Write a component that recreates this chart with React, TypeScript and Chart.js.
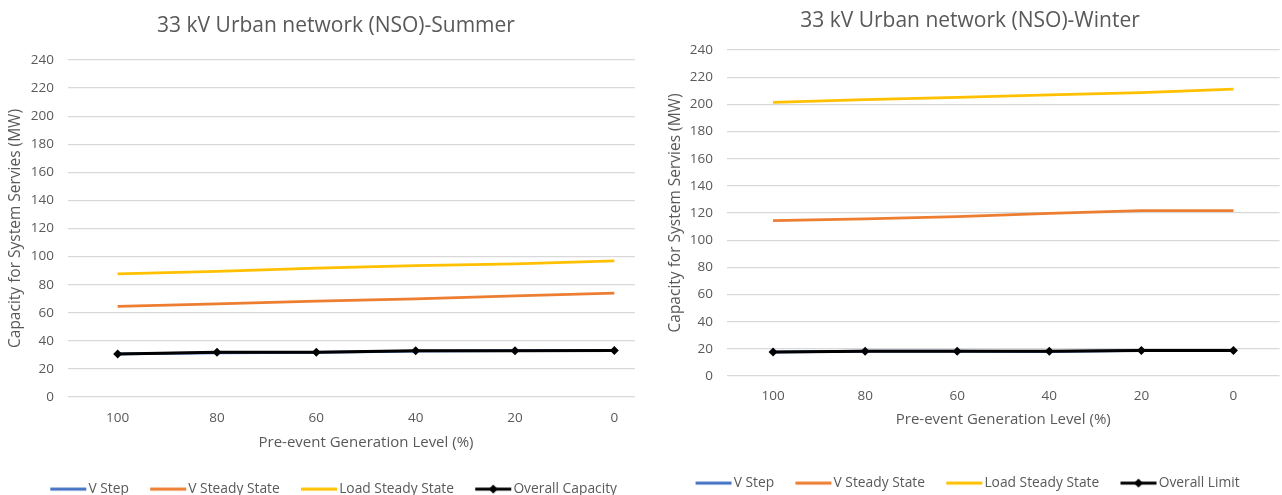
import { useEffect, useRef } from 'react';
import { Chart, registerables } from 'chart.js';

Chart.register(...registerables);

// ---------- data ----------
const generationLevels = [100, 80, 60, 40, 20, 0];
const yTickValues = [0, 20, 40, 60, 80, 100, 120, 140, 160, 180, 200, 220, 240];

const seriesNames = ['V Step', 'V Steady State', 'Load Steady State'];
const summerOverallName = 'Overall Capacity';
const winterOverallName = 'Overall Limit';

const summerTitle = '33 kV Urban network (NSO)-Summer';
const winterTitle = '33 kV Urban network (NSO)-Winter';
const xAxisTitle = 'Pre-event Generation Level (%)';
const yAxisTitle = 'Capacity for System Servies (MW)';

const summerVStep = [30.7, 31.4, 31.8, 32.6, 33.0, 33.2];
const summerVSteady = [64.6, 66.3, 68.2, 69.8, 72.0, 73.9];
const summerLoad = [87.6, 89.5, 91.7, 93.6, 94.8, 96.9];
const summerOverall = [30.7, 31.8, 31.8, 33.0, 33.0, 33.2];

const winterVStep = [17.6, 18.3, 18.3, 18.0, 18.8, 18.8];
const winterVSteady = [114.4, 115.6, 117.3, 119.8, 121.7, 121.7];
const winterLoad = [201.5, 203.5, 205.1, 206.9, 208.6, 211.2];
const winterOverall = [17.6, 18.3, 18.3, 18.3, 18.8, 18.8];

const colors = ['#4472C4', '#ED7D31', '#FFC000', '#000000'];

// ---------- styling ----------
const FONT = "'Open Sans', 'DejaVu Sans', sans-serif";
const TEXT = '#595959';
const GRID = '#D9D9D9';

function makeMarker(color: string, diamond: boolean): HTMLCanvasElement {
  const c = document.createElement('canvas');
  c.width = 38;
  c.height = 12;
  const ctx = c.getContext('2d')!;
  ctx.strokeStyle = color;
  ctx.lineWidth = 3;
  ctx.beginPath();
  ctx.moveTo(1, 6);
  ctx.lineTo(37, 6);
  ctx.stroke();
  if (diamond) {
    ctx.fillStyle = color;
    ctx.beginPath();
    ctx.moveTo(19, 1.5);
    ctx.lineTo(23.5, 6);
    ctx.lineTo(19, 10.5);
    ctx.lineTo(14.5, 6);
    ctx.closePath();
    ctx.fill();
  }
  return c;
}

const toPoints = (vals: number[]) => generationLevels.map((x, i) => ({ x, y: vals[i] }));

interface Layout {
  title: string;
  overallName: string;
  vStep: number[];
  vSteady: number[];
  load: number[];
  overall: number[];
  titlePad: { top: number; bottom: number };
  yWidth: number;
  yTitlePad: number;
  xHeight: number;
  xTickPad: number;
  xTitlePad: { top: number; bottom: number };
  padLeft: number;
  padRight: number;
}

function buildConfig(l: Layout): any {
  const markers = [
    makeMarker(colors[0], false),
    makeMarker(colors[1], false),
    makeMarker(colors[2], false),
    makeMarker(colors[3], true),
  ];
  const names = [...seriesNames, l.overallName];
  const values = [l.vStep, l.vSteady, l.load, l.overall];
  const datasets = values.map((v, i) => {
    const isOverall = i === 3;
    return {
      label: names[i],
      data: toPoints(v),
      borderColor: colors[i],
      backgroundColor: colors[i],
      borderWidth: isOverall ? 3 : 2.75,
      pointRadius: isOverall ? 4.5 : 0,
      pointHoverRadius: isOverall ? 4.5 : 0,
      pointStyle: 'rectRot',
      pointBackgroundColor: colors[i],
      pointBorderColor: colors[i],
      pointBorderWidth: 0,
      tension: 0,
      order: isOverall ? 0 : 1,
    };
  });

  return {
    type: 'line',
    data: { datasets },
    options: {
      animation: false,
      responsive: false,
      maintainAspectRatio: false,
      devicePixelRatio: 1,
      layout: { padding: { left: l.padLeft, right: l.padRight, top: 0, bottom: 0 } },
      plugins: {
        tooltip: { enabled: false },
        title: {
          display: true,
          text: l.title,
          color: TEXT,
          font: { family: FONT, size: 21, weight: 'normal' },
          padding: l.titlePad,
        },
        legend: {
          display: true,
          position: 'bottom',
          labels: {
            usePointStyle: true,
            pointStyleWidth: 26.5,
            padding: 26,
            color: TEXT,
            font: { family: FONT, size: 13.8 },
            sort: (a: any, b: any) => a.datasetIndex - b.datasetIndex,
            generateLabels: (chart: any) => {
              const items = (Chart.defaults.plugins.legend.labels as any).generateLabels(chart);
              return items.map((it: any) => ({ ...it, pointStyle: markers[it.datasetIndex], fontColor: TEXT }));
            },
          },
        },
      },
      scales: {
        x: {
          type: 'linear',
          reverse: true,
          min: -10,
          max: 110,
          afterBuildTicks: (scale: any) => {
            scale.ticks = generationLevels.map((v) => ({ value: v }));
          },
          afterFit: (scale: any) => {
            scale.height = l.xHeight;
          },
          grid: { display: false, drawTicks: false },
          border: { display: false },
          ticks: {
            color: TEXT,
            padding: l.xTickPad,
            font: { family: FONT, size: 13.5 },
            autoSkip: false,
            maxRotation: 0,
            callback: (v: any) => String(v),
          },
          title: {
            display: true,
            text: xAxisTitle,
            color: TEXT,
            font: { family: FONT, size: 15 },
            padding: l.xTitlePad,
          },
        },
        y: {
          type: 'linear',
          min: 0,
          max: 240,
          afterBuildTicks: (scale: any) => {
            scale.ticks = yTickValues.map((v) => ({ value: v }));
          },
          afterFit: (scale: any) => {
            scale.width = l.yWidth;
          },
          grid: { color: GRID, lineWidth: 1.3, drawTicks: false },
          border: { display: false },
          ticks: {
            color: TEXT,
            padding: 14,
            font: { family: FONT, size: 13.5 },
            callback: (v: any) => String(v),
          },
          title: {
            display: true,
            text: yAxisTitle,
            color: TEXT,
            font: { family: FONT, size: 15.5 },
            padding: { top: l.yTitlePad, bottom: 0 },
          },
        },
      },
    },
  };
}

function LineChart({ layout, width, height }: { layout: Layout; width: number; height: number }) {
  const ref = useRef<HTMLCanvasElement | null>(null);
  useEffect(() => {
    if (!ref.current) return;
    const chart = new Chart(ref.current, buildConfig(layout));
    return () => chart.destroy();
  }, [layout]);
  return <canvas ref={ref} width={width} height={height} style={{ display: 'block', width, height }} />;
}

const summerLayout: Layout = {
  title: summerTitle,
  overallName: summerOverallName,
  vStep: summerVStep,
  vSteady: summerVSteady,
  load: summerLoad,
  overall: summerOverall,
  titlePad: { top: 13.4, bottom: 21.4 },
  yWidth: 60,
  yTitlePad: -1.8,
  xHeight: 59.2,
  xTickPad: 13,
  xTitlePad: { top: 4, bottom: 4.7 },
  padLeft: 8,
  padRight: 8,
};

const winterLayout: Layout = {
  title: winterTitle,
  overallName: winterOverallName,
  vStep: winterVStep,
  vSteady: winterVSteady,
  load: winterLoad,
  overall: winterOverall,
  titlePad: { top: 8.4, bottom: 16.4 },
  yWidth: 69,
  yTitlePad: 8.7,
  xHeight: 74.2,
  xTickPad: 12,
  xTitlePad: { top: 4, bottom: 21.2 },
  padLeft: 8,
  padRight: 2,
};

export default function App() {
  return (
    <div
      style={{
        position: 'absolute',
        left: 0,
        top: 0,
        width: 1282,
        height: 495,
        overflow: 'hidden',
        background: '#ffffff',
      }}
    >
      <div style={{ position: 'absolute', left: 0, top: 0, width: 635, height: 495, overflow: 'hidden' }}>
        <LineChart layout={summerLayout} width={672} height={506} />
      </div>
      <div style={{ position: 'absolute', left: 650, top: 0, width: 634, height: 500 }}>
        <LineChart layout={winterLayout} width={634} height={500} />
      </div>
    </div>
  );
}
